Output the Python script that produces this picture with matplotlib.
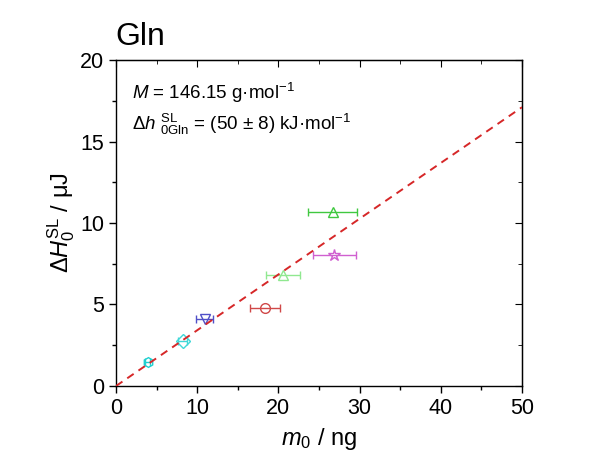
import numpy as np
import matplotlib.pyplot as plt

plt.rcParams['font.family'] = ['Liberation Sans', 'DejaVu Sans']
plt.rcParams['mathtext.fontset'] = 'custom'
plt.rcParams['mathtext.rm'] = 'Liberation Sans'
plt.rcParams['mathtext.it'] = 'Liberation Sans:italic'
plt.rcParams['mathtext.bf'] = 'Liberation Sans:bold'

# sample mass (ng), melting heat (uJ) and mass uncertainty
m0 = [3.9, 8.2, 10.9, 18.35, 20.6, 26.9, 26.7]
dH = [1.45, 2.76, 4.1, 4.77, 6.8, 8.04, 10.67]
m0_err = [0.3, 0.6, 1.1, 1.85, 2.1, 2.7, 3.0]
markers = ['h', 'D', 'v', 'o', '^', '*', '^']
colors = ['#20d0d0', '#40d8d8', '#5050c8', '#d04848', '#90e890', '#d060d0', '#40c840']

molar_mass = 146.15   # g/mol
dh_fus = 50.0         # kJ/mol
slope = dh_fus / molar_mass


def main():
    fig = plt.figure(figsize=(5.99, 4.54), dpi=100)
    ax = fig.add_axes([0.1937, 0.1498, 0.6778, 0.718])

    x = np.linspace(0, 50, 200)
    ax.plot(x, slope * x, color='#d62728', linestyle=(0, (4, 3)), linewidth=1.4, zorder=3)

    for xi, yi, ei, mk, c in zip(m0, dH, m0_err, markers, colors):
        ax.errorbar(xi, yi, xerr=ei, fmt=mk, mfc='none', mec=c, ecolor=c,
                    ms=7 if mk != '*' else 9, mew=1.0, elinewidth=1.0,
                    capsize=3, capthick=1.0, zorder=2)

    ax.set_xlim(0, 50)
    ax.set_ylim(0, 20)
    ax.set_xticks(np.arange(0, 51, 10))
    ax.set_xticks(np.arange(5, 50, 10), minor=True)
    ax.set_yticks(np.arange(0, 21, 5))
    ax.set_yticks(np.arange(2.5, 20, 5), minor=True)
    ax.tick_params(which='both', direction='out', labelsize=15.5, width=1.0)
    ax.tick_params(which='major', length=5)
    ax.tick_params(which='minor', length=3)
    for s in ax.spines.values():
        s.set_linewidth(1.0)

    # inward ticks on the opposite axes
    axt = ax.secondary_xaxis('top')
    axt.set_xticks(np.arange(0, 51, 10))
    axt.set_xticks(np.arange(5, 50, 10), minor=True)
    axt.tick_params(which='both', direction='in', labeltop=False)
    axt.tick_params(which='major', length=5)
    axt.tick_params(which='minor', length=3)
    axr = ax.secondary_yaxis('right')
    axr.set_yticks(np.arange(0, 21, 5))
    axr.set_yticks(np.arange(2.5, 20, 5), minor=True)
    axr.tick_params(which='both', direction='in', labelright=False)
    axr.tick_params(which='major', length=5)
    axr.tick_params(which='minor', length=3)

    ax.set_xlabel(r'$m_0$ / ng', fontsize=17, labelpad=5)
    ax.set_ylabel(r'$\Delta H_0^{\rm SL}$ / μJ', fontsize=17, labelpad=2)

    ax.text(0.04, 0.88, r'$M$ = 146.15 g·mol$^{-1}$', transform=ax.transAxes, fontsize=13.5)
    ax.text(0.04, 0.785, r'$\Delta h\ _{\rm 0Gln}^{\rm SL}$ = (50 ± 8) kJ·mol$^{-1}$',
            transform=ax.transAxes, fontsize=13.5)

    fig.text(0.193, 0.9, 'Gln', fontsize=23)

    fig.savefig('out.png', dpi=100)


if __name__ == '__main__':
    main()
